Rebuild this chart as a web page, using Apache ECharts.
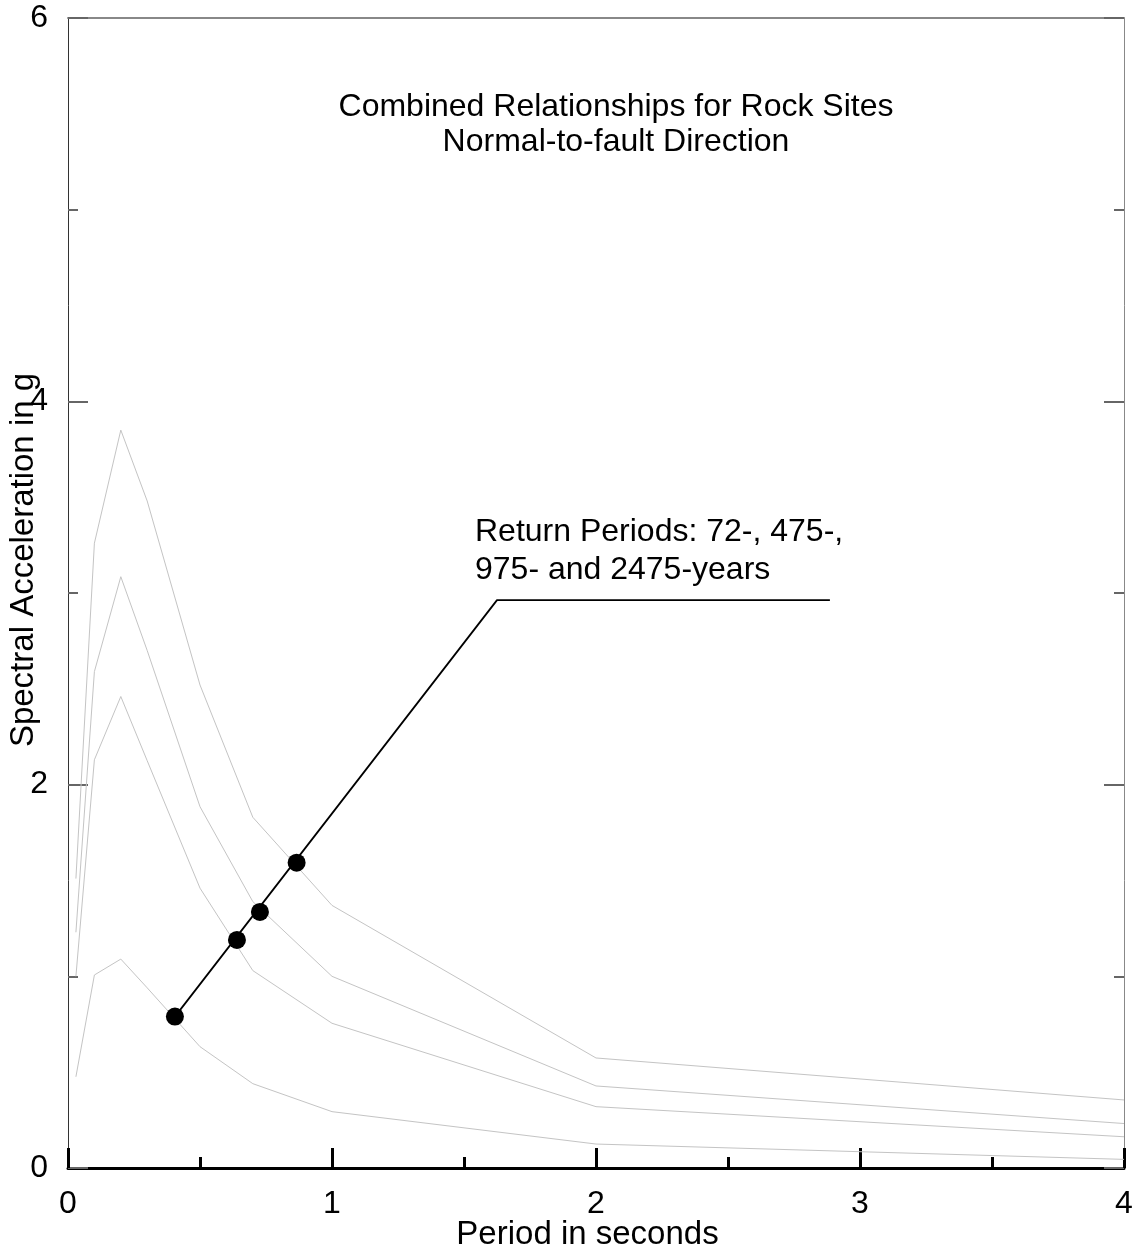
<!DOCTYPE html>
<html>
<head>
<meta charset="utf-8">
<script src="https://cdn.jsdelivr.net/npm/echarts@6/dist/echarts.min.js"></script>
<style>
html,body{margin:0;padding:0;background:#fff;}
#chart{width:1135px;height:1257px;}
</style>
</head>
<body>
<div id="chart"></div>
<script>
// Periods (s)
var periods = [0.03, 0.1, 0.2, 0.3, 0.5, 0.7, 1.0, 2.0, 4.0];
// Spectral acceleration (g) for each return period
var sa72   = [0.476, 1.007, 1.09, 0.94, 0.633, 0.44, 0.294, 0.125, 0.045];
var sa475  = [1.0, 2.13, 2.46, 2.125, 1.46, 1.03, 0.755, 0.32, 0.163];
var sa975  = [1.23, 2.59, 3.085, 2.70, 1.885, 1.39, 1.0, 0.428, 0.232];
var sa2475 = [1.51, 3.26, 3.85, 3.48, 2.52, 1.83, 1.37, 0.574, 0.355];
// Marker dots on the curves
var dotPts = [[0.405, 0.79], [0.64, 1.19], [0.727, 1.336], [0.866, 1.593]];
// Leader line for the annotation
var leaderPts = [[0.405, 0.79], [1.625, 2.963], [2.886, 2.963]];
var xTicks = [0, 1, 2, 3, 4];
var yTicks = [0, 2, 4, 6];
var titleLines = ['Combined Relationships for Rock Sites', 'Normal-to-fault Direction'];
var noteLines = ['Return Periods: 72-, 475-,', '975- and 2475-years'];

function pairs(xs, ys) { return xs.map(function (x, i) { return [x, ys[i]]; }); }

var FONT = '"Liberation Sans", Arial, sans-serif';
var curveStyle = { color: '#c4c4c4', width: 1 };

function curve(name, ys) {
  return {
    name: name, type: 'line', data: pairs(periods, ys), symbol: 'none',
    lineStyle: curveStyle, silent: true, z: 2
  };
}

var chart = echarts.init(document.getElementById('chart'), null, { renderer: 'canvas' });
chart.setOption({
  animation: false,
  backgroundColor: '#ffffff',
  grid: { left: 68, right: 11, top: 18, bottom: 89, containLabel: false, outerBoundsMode: 'none' },
  xAxis: [{
    type: 'value', min: xTicks[0], max: xTicks[xTicks.length - 1], interval: 1,
    position: 'bottom',
    name: 'Period in seconds', nameLocation: 'middle', nameGap: 50, nameMoveOverlap: false,
    nameTextStyle: { fontFamily: FONT, fontSize: 33, color: '#000', padding: [0, 17, 0, 0] },
    axisLine: { show: true, onZero: false, lineStyle: { color: '#000', width: 3 } },
    axisTick: { show: true, inside: true, length: 20, lineStyle: { color: '#000', width: 3 } },
    minorTick: { show: true, splitNumber: 2, length: 11, lineStyle: { color: '#000', width: 3 } },
    axisLabel: { fontFamily: FONT, fontSize: 32, color: '#000', margin: 20 },
    splitLine: { show: false }, minorSplitLine: { show: false }
  }, {
    type: 'value', min: 0, max: 4, position: 'top',
    axisLine: { show: true, onZero: false, lineStyle: { color: '#888', width: 2 } },
    axisTick: { show: false }, axisLabel: { show: false }, splitLine: { show: false }
  }],
  yAxis: [{
    type: 'value', min: yTicks[0], max: yTicks[yTicks.length - 1], interval: 2,
    position: 'left',
    name: 'Spectral Acceleration in g', nameLocation: 'middle', nameGap: 28, nameRotate: 90,
    nameMoveOverlap: false,
    nameTextStyle: { fontFamily: FONT, fontSize: 33, color: '#000', padding: [0, 0, 0, 66] },
    axisLine: { show: true, onZero: false, lineStyle: { color: '#333', width: 1 } },
    axisTick: { show: true, inside: true, length: 20, lineStyle: { color: '#666', width: 2 } },
    minorTick: { show: true, splitNumber: 2, length: 10, lineStyle: { color: '#666', width: 2 } },
    axisLabel: { fontFamily: FONT, fontSize: 32, color: '#000', margin: 20 },
    splitLine: { show: false }, minorSplitLine: { show: false }
  }, {
    type: 'value', min: 0, max: 6, interval: 2, position: 'right',
    axisLine: { show: true, onZero: false, lineStyle: { color: '#888', width: 1 } },
    axisTick: { show: true, inside: true, length: 20, lineStyle: { color: '#666', width: 2 } },
    minorTick: { show: true, splitNumber: 2, length: 10, lineStyle: { color: '#666', width: 2 } },
    axisLabel: { show: false }, splitLine: { show: false }, minorSplitLine: { show: false }
  }],
  series: [
    curve('72-year', sa72),
    curve('475-year', sa475),
    curve('975-year', sa975),
    curve('2475-year', sa2475),
    {
      name: 'leader', type: 'line', data: leaderPts, symbol: 'none',
      lineStyle: { color: '#000', width: 1.8 }, silent: true, z: 3
    },
    {
      name: 'dots', type: 'scatter', data: dotPts, symbol: 'circle', symbolSize: 18,
      itemStyle: { color: '#000', opacity: 1 }, silent: true, z: 4
    }
  ],
  graphic: [
    { type: 'text', x: 616, y: 107, style: { text: titleLines[0], fontFamily: FONT, fontSize: 32, fill: '#000', align: 'center', verticalAlign: 'middle' } },
    { type: 'text', x: 616, y: 142, style: { text: titleLines[1], fontFamily: FONT, fontSize: 32, fill: '#000', align: 'center', verticalAlign: 'middle' } },
    { type: 'text', x: 475, y: 532, style: { text: noteLines[0], fontFamily: FONT, fontSize: 32, fill: '#000', align: 'left', verticalAlign: 'middle' } },
    { type: 'text', x: 475, y: 570, style: { text: noteLines[1], fontFamily: FONT, fontSize: 32, fill: '#000', align: 'left', verticalAlign: 'middle' } }
  ]
});
</script>
</body>
</html>
